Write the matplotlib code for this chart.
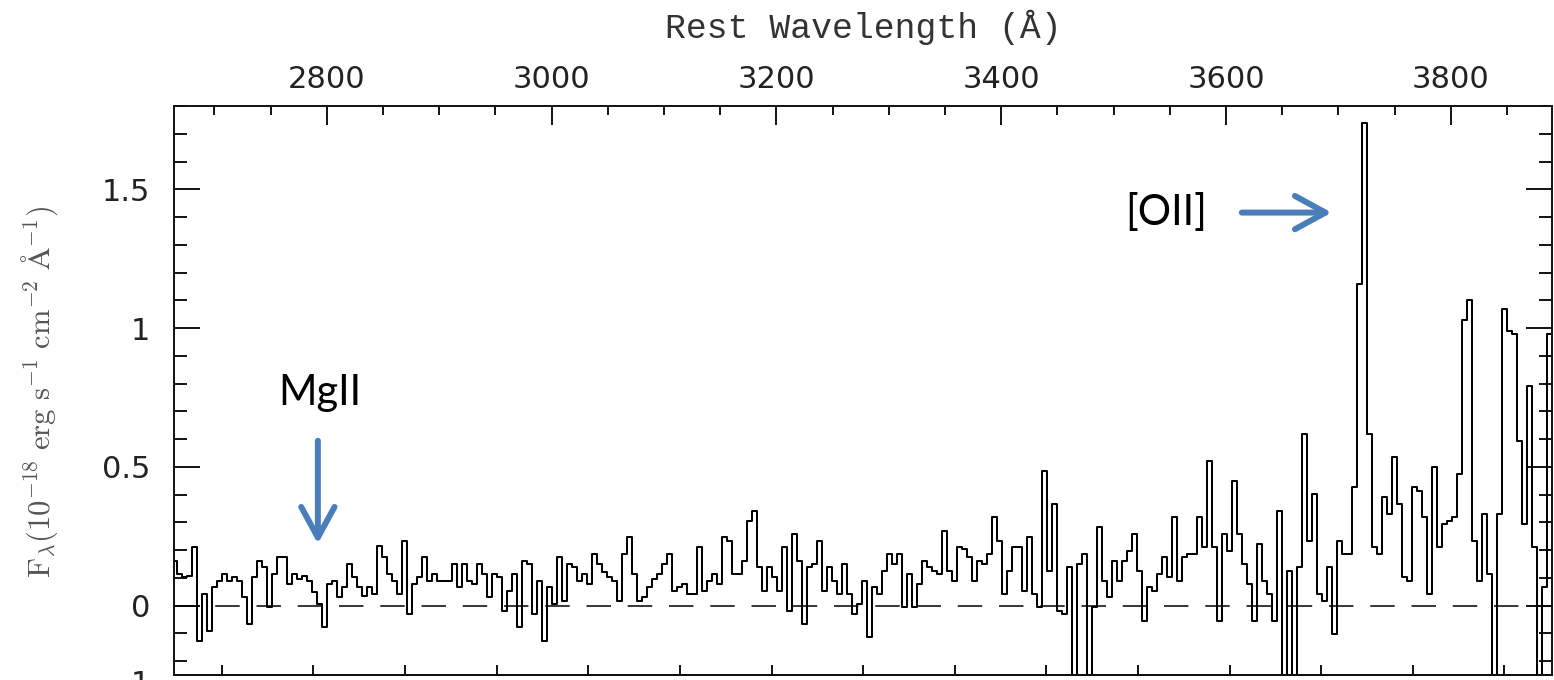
import numpy as np
import matplotlib
matplotlib.use("Agg")
import matplotlib.pyplot as plt
from matplotlib.ticker import MultipleLocator, FuncFormatter
from matplotlib.patches import FancyArrowPatch, ArrowStyle

# ---------------- data ----------------
# rest wavelength grid of the binned spectrum (Angstrom)
wave_start = 2664.8
wave_step = 4.448

# flux F_lambda in 1e-18 erg/s/cm^2/A, in consecutive wavelength chunks
flux_2665_2869 = [0.162, 0.114, 0.102, 0.108, 0.210, -0.126, 0.042, -0.090, 0.066, 0.090,
                  0.114, 0.090, 0.102, 0.090, 0.030, -0.066, 0.102, 0.162, 0.138, -0.006,
                  0.114, 0.174, 0.174, 0.078, 0.114, 0.096, 0.108, 0.090, 0.048, 0.006,
                  -0.078, 0.078, 0.090, 0.030, 0.066, 0.150, 0.102, 0.066, 0.036, 0.066,
                  0.042, 0.216, 0.174, 0.114, 0.090, 0.042, 0.234]
flux_2874_3074 = [-0.030, 0.078, 0.102, 0.174, 0.090, 0.114, 0.090, 0.090, 0.090, 0.150,
                  0.066, 0.150, 0.090, 0.078, 0.150, 0.114, 0.030, 0.114, 0.102, -0.018,
                  0.054, 0.114, -0.078, 0.162, 0.150, -0.030, 0.090, -0.126, 0.066, 0.006,
                  0.174, 0.018, 0.150, 0.138, 0.090, 0.114, 0.078, 0.186, 0.150, 0.120,
                  0.102, 0.090, 0.018, 0.186, 0.246, 0.114]
flux_3079_3279 = [0.018, 0.030, 0.066, 0.096, 0.114, 0.150, 0.186, 0.054, 0.066, 0.078,
                  0.042, 0.042, 0.210, 0.054, 0.090, 0.114, 0.078, 0.246, 0.234, 0.114,
                  0.114, 0.162, 0.306, 0.342, 0.138, 0.054, 0.138, 0.102, 0.054, 0.210,
                  -0.018, 0.258, 0.162, -0.066, 0.138, 0.150, 0.234, 0.054, 0.138, 0.090,
                  0.042, 0.150, 0.042, -0.030, 0.006, 0.090]
flux_3284_3484 = [-0.114, 0.066, 0.042, 0.126, 0.186, 0.150, 0.186, -0.006, 0.114, -0.006,
                  0.078, 0.162, 0.138, 0.126, 0.114, 0.270, 0.126, 0.090, 0.210, 0.204,
                  0.174, 0.090, 0.162, 0.150, 0.186, 0.318, 0.234, 0.042, 0.126, 0.210,
                  0.210, 0.054, 0.246, 0.042, -0.006, 0.486, 0.126, 0.366, -0.018, -0.030,
                  0.138, -0.270, 0.150, 0.186, -0.270, -0.006]
flux_3488_3688 = [0.282, 0.090, 0.030, 0.162, 0.090, 0.162, 0.198, 0.258, 0.126, -0.054,
                  0.066, 0.054, 0.114, 0.174, 0.102, 0.318, 0.090, 0.174, 0.186, 0.186,
                  0.318, 0.210, 0.522, 0.210, -0.054, 0.258, 0.198, 0.450, 0.258, 0.150,
                  0.078, -0.054, 0.222, 0.090, 0.042, -0.054, 0.342, -0.270, 0.126, -0.250,
                  0.138, 0.618, 0.234, 0.402, 0.042, 0.018]
flux_3693_3888 = [0.138, -0.102, 0.234, 0.186, 0.186, 0.426, 1.158, 1.740, 0.620, 0.210,
                  0.186, 0.390, 0.330, 0.534, 0.366, 0.102, 0.090, 0.426, 0.414, 0.318,
                  0.042, 0.498, 0.210, 0.294, 0.306, 0.318, 0.474, 1.030, 1.100, 0.234,
                  0.090, 0.330, 0.114, -0.300, 0.330, 1.070, 0.990, 0.980, 0.594, 0.294,
                  0.790, 0.210, -0.270, 0.066, 0.980]

flux = np.array(flux_2665_2869 + flux_2874_3074 + flux_3079_3279 +
                flux_3284_3484 + flux_3488_3688 + flux_3693_3888)
wave = wave_start + wave_step * np.arange(flux.size)

x_range = (2664, 3890)
y_range = (-0.25, 1.8)

# ---------------- figure ----------------
W, H = 1554, 680
fig = plt.figure(figsize=(W / 100, H / 100), dpi=100)
fig.patch.set_facecolor("white")
ax = fig.add_axes([174 / W, 5 / H, 1378 / W, 569 / H])
ax.set_xlim(*x_range)
ax.set_ylim(*y_range)

ax.step(wave, flux, where="mid", color="black", lw=1.45)
ax.axhline(0, color="black", lw=1.1, dashes=(16, 11))

for sp in ax.spines.values():
    sp.set_linewidth(1.4)
    sp.set_color("#111111")

# top axis: rest wavelength
ax.xaxis.tick_top()
ax.xaxis.set_major_locator(MultipleLocator(200))
ax.xaxis.set_minor_locator(MultipleLocator(50))
ax.tick_params(axis="x", which="both", direction="in", top=True, bottom=False,
               labeltop=True, labelbottom=False, width=1.3, labelsize=22,
               labelcolor="#222222", pad=9)
ax.tick_params(axis="x", which="major", length=14)
ax.tick_params(axis="x", which="minor", length=6.5)

# y axis
ax.yaxis.set_major_locator(MultipleLocator(0.5))
ax.yaxis.set_minor_locator(MultipleLocator(0.1))
ax.yaxis.set_major_formatter(FuncFormatter(lambda v, p: "%g" % v))
ax.tick_params(axis="y", which="both", direction="in", left=True, right=True,
               width=1.3, labelsize=22, labelcolor="#222222", pad=17)
ax.tick_params(axis="y", which="major", length=19)
ax.tick_params(axis="y", which="minor", length=9.5)

# bottom axis: observed-frame ticks (unlabelled in the visible crop)
obs_zero, obs_step = 2706.6, 81.5
sec = ax.secondary_xaxis("bottom", functions=(lambda x: (x - obs_zero) / obs_step,
                                               lambda t: t * obs_step + obs_zero))
sec.xaxis.set_major_locator(MultipleLocator(1))
sec.tick_params(direction="in", length=7, width=1.3, labelbottom=False)
sec.spines["bottom"].set_linewidth(1.4)

# titles
fig.text(863 / W, 1 - 27 / H, "Rest Wavelength (Å)", ha="center", va="center",
         family=["Liberation Mono", "DejaVu Sans Mono"], fontsize=25, color="#333333")
fig.text(40 / W, 1 - 392 / H,
         r"$\mathrm{F}_{\lambda}(10^{-18}\ \mathrm{erg\ s^{-1}\ cm^{-2}\ \AA^{-1}})$",
         rotation=90, ha="center", va="center", fontsize=22, color="#555555",
         math_fontfamily="cm")
# fragment of a tick label cut by the bottom edge (as in the reference crop)
fig.text(140 / W, 10 / H, "1", ha="center", va="top", fontsize=22, color="#222222")

# annotations
blue = "#4a7ebb"
ax.text(2793.8, 0.767, "MgII", ha="center", va="center", family="Lato",
        fontsize=30, color="black")
ax.add_patch(FancyArrowPatch((2792, 0.594), (2792, 0.223),
                             arrowstyle=ArrowStyle("->", head_length=22, head_width=12),
                             mutation_scale=1, lw=4.3, color=blue,
                             shrinkA=0, shrinkB=0))
ax.text(3546.4, 1.416, "[OII]", ha="center", va="center", family="Lato",
        fontsize=30, color="black")
ax.add_patch(FancyArrowPatch((3614, 1.416), (3694, 1.416),
                             arrowstyle=ArrowStyle("->", head_length=22, head_width=12),
                             mutation_scale=1, lw=4.3, color=blue,
                             shrinkA=0, shrinkB=0))

fig.savefig("out.png", dpi=100)
